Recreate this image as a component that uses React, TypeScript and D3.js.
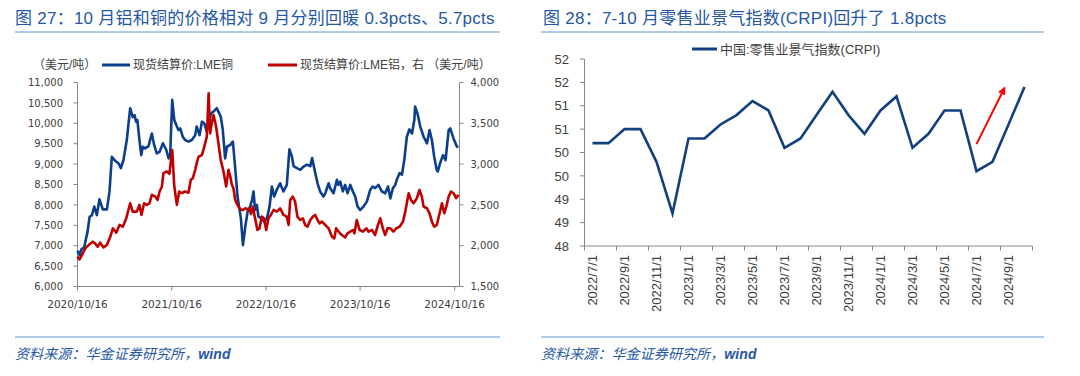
import React from "react";
import * as d3 from "d3";

// ---------- Figure 27: LME copper (left axis) & aluminium (right axis) ----------
const copperDates = [
  "2020-10-16","2020-10-24","2020-10-31","2020-11-11","2020-11-24","2020-12-02","2020-12-11","2020-12-20","2020-12-30",
  "2021-01-09","2021-01-22","2021-02-07","2021-02-17","2021-02-26","2021-03-11","2021-03-24","2021-04-02","2021-04-12","2021-04-25",
  "2021-05-08","2021-05-18","2021-05-25","2021-05-31","2021-06-05","2021-06-13","2021-06-20","2021-06-26","2021-07-05","2021-07-18",
  "2021-07-31","2021-08-09","2021-08-19","2021-08-30","2021-09-12","2021-09-25","2021-10-04","2021-10-10","2021-10-18","2021-10-26",
  "2021-11-05","2021-11-11","2021-11-18","2021-11-28","2021-12-07","2021-12-20",
  "2022-01-02","2022-01-15","2022-01-21","2022-02-01","2022-02-10","2022-02-19","2022-03-01","2022-03-08","2022-03-17","2022-03-27",
  "2022-04-09","2022-04-15","2022-04-24","2022-05-02","2022-05-11","2022-05-18","2022-05-31","2022-06-10","2022-06-19","2022-06-28",
  "2022-07-06","2022-07-11","2022-07-19","2022-07-28","2022-08-06","2022-08-16","2022-08-23","2022-08-29","2022-09-04","2022-09-11",
  "2022-09-17","2022-09-30","2022-10-09","2022-10-20","2022-10-30","2022-11-08","2022-11-17","2022-11-27","2022-12-10","2022-12-23",
  "2023-01-05","2023-01-15","2023-01-25","2023-01-31","2023-02-13","2023-02-26","2023-03-11","2023-03-24","2023-04-06","2023-04-13",
  "2023-04-25","2023-05-04","2023-05-14","2023-05-27","2023-06-03","2023-06-16","2023-06-22","2023-07-05","2023-07-18","2023-07-24",
  "2023-07-31","2023-08-10","2023-08-19","2023-08-28","2023-09-08","2023-09-18","2023-09-27","2023-10-06","2023-10-16","2023-10-29",
  "2023-11-11","2023-11-24","2023-12-04","2023-12-13","2023-12-26",
  "2024-01-08","2024-01-21","2024-02-01","2024-02-10","2024-02-20","2024-02-29","2024-03-06","2024-03-17","2024-03-26","2024-04-04",
  "2024-04-14","2024-04-24","2024-05-04","2024-05-13","2024-05-16","2024-05-25","2024-06-05","2024-06-18","2024-07-01","2024-07-11",
  "2024-07-20","2024-07-29","2024-08-08","2024-08-12","2024-08-21","2024-09-01","2024-09-11","2024-09-23","2024-09-29","2024-10-12",
  "2024-10-25","2024-10-31",
];
const copperPrices = [
  6876, 6770, 6910, 6960, 7345, 7710, 7750, 7960, 7750,
  8140, 7890, 7890, 8330, 9180, 9081, 9016, 8900, 9100, 9590,
  10370, 10150, 10200, 10040, 10080, 9590, 9220, 9425, 9385, 9440,
  9750, 9470, 9260, 9300, 9510, 9345, 9140, 9220, 10575, 10080,
  9920, 9835, 9875, 9670, 9590, 9550,
  9590, 9710, 9920, 9710, 10040, 10000, 9795, 9960, 10245, 10285,
  10370, 10285, 10165, 9835, 9140, 9425, 9470, 9550, 8900, 8205,
  7875, 7670, 7015, 7465, 7835, 7960, 8120, 8330, 7875, 8000,
  7710, 7670, 7590, 7670, 7960, 8450, 8205, 8370, 8530, 8330,
  8490, 9360, 9180, 8950, 8900, 8860, 8940, 8985, 8950, 9150,
  8780, 8530, 8330, 8205, 8285, 8530, 8410, 8285, 8615, 8490,
  8570, 8330, 8490, 8285, 8490, 8330, 8205, 7960, 7875, 7960,
  8080, 8370, 8450, 8410, 8490,
  8330, 8285, 8450, 8160, 8410, 8490, 8615, 8780, 8740, 9100,
  9670, 9850, 9750, 10080, 10410, 10245, 9920, 9670, 9510, 9835,
  9590, 9180, 8850, 8820, 9025, 9220, 9100, 9835, 9875, 9630,
  9425, 9425,
];
const aluminumDates = [
  "2020-10-16","2020-10-24","2020-11-02","2020-11-15","2020-11-28","2020-12-14","2020-12-23","2021-01-02","2021-01-12","2021-01-25",
  "2021-02-07","2021-02-20","2021-03-02","2021-03-15","2021-03-28","2021-04-10","2021-04-23","2021-05-08","2021-05-18","2021-06-03",
  "2021-06-13","2021-06-21","2021-07-01","2021-07-12","2021-07-22","2021-07-31","2021-08-13","2021-08-22","2021-08-30","2021-09-08",
  "2021-09-14","2021-09-27","2021-10-07","2021-10-18","2021-10-26","2021-11-05","2021-11-14","2021-11-24","2021-12-07","2021-12-20",
  "2021-12-29","2022-01-06","2022-01-15","2022-01-21","2022-01-28","2022-02-10","2022-02-19","2022-03-01","2022-03-08","2022-03-14",
  "2022-03-20","2022-03-27","2022-04-06","2022-04-15","2022-04-24","2022-05-05","2022-05-15","2022-05-24","2022-05-31","2022-06-06",
  "2022-06-12","2022-06-19","2022-06-28","2022-07-08","2022-07-19","2022-07-28","2022-08-03","2022-08-13","2022-08-19","2022-08-26",
  "2022-09-04","2022-09-13","2022-09-21","2022-09-30","2022-10-09","2022-10-17","2022-10-26","2022-11-04","2022-11-15","2022-11-27",
  "2022-12-10","2022-12-23","2023-01-05","2023-01-12","2023-01-18","2023-01-28","2023-02-06","2023-02-15","2023-02-26","2023-03-08",
  "2023-03-17","2023-03-26","2023-04-06","2023-04-16","2023-04-25","2023-05-04","2023-05-12","2023-05-21","2023-06-03","2023-06-16",
  "2023-06-29","2023-07-08","2023-07-15","2023-07-24","2023-08-06","2023-08-19","2023-08-28","2023-09-08","2023-09-18","2023-09-24",
  "2023-10-03","2023-10-14","2023-10-27","2023-11-09","2023-11-18","2023-12-01","2023-12-13","2023-12-22","2024-01-02","2024-01-12",
  "2024-01-21","2024-01-30","2024-02-10","2024-02-22","2024-03-04","2024-03-17","2024-03-30","2024-04-08","2024-04-21","2024-04-30",
  "2024-05-10","2024-05-23","2024-06-02","2024-06-11","2024-06-18","2024-07-01","2024-07-11","2024-07-20","2024-07-29","2024-08-08",
  "2024-08-19","2024-08-28","2024-09-06","2024-09-14","2024-09-23","2024-10-02","2024-10-12","2024-10-22","2024-10-31",
];
const aluminumPrices = [
  1865, 1832, 1885, 1967, 2008, 2049, 2029, 1988, 2037, 1979,
  2008, 2110, 2212, 2160, 2254, 2234, 2336, 2520, 2418, 2418,
  2500, 2377, 2520, 2500, 2520, 2623, 2603, 2562, 2664, 2725,
  2889, 2910, 2881, 3172, 2725, 2500, 2664, 2644, 2664, 2650,
  2808, 2828, 2930, 3012, 3090, 3110, 3212, 3335, 3869, 3377,
  3500, 3602, 3460, 3255, 3050, 2906, 2725, 2930, 2849, 2746,
  2705, 2562, 2500, 2447, 2438, 2458, 2447, 2458, 2389, 2479,
  2336, 2193, 2212, 2356, 2336, 2193, 2336, 2377, 2438, 2418,
  2458, 2377, 2356, 2254, 2561, 2602, 2541, 2356, 2315, 2336,
  2254, 2233, 2315, 2356, 2377, 2315, 2274, 2295, 2254, 2213,
  2110, 2090, 2213, 2172, 2131, 2102, 2151, 2172, 2192, 2151,
  2315, 2192, 2172, 2213, 2172, 2192, 2131, 2233, 2336, 2213,
  2131, 2213, 2213, 2172, 2213, 2233, 2295, 2418, 2643, 2561,
  2520, 2582, 2684, 2602, 2479, 2459, 2397, 2295, 2233, 2254,
  2397, 2520, 2397, 2479, 2602, 2664, 2643, 2582, 2623,
];
const copperTicks = [6000, 6500, 7000, 7500, 8000, 8500, 9000, 9500, 10000, 10500, 11000];
const aluminumTicks = [1500, 2000, 2500, 3000, 3500, 4000];
const dateTicks = ["2020-10-16", "2021-10-16", "2022-10-16", "2023-10-16", "2024-10-16"];
const dateDomain = ["2020-10-16", "2024-11-04"];

// ---------- Figure 28: China retail business prosperity index (CRPI) ----------
const crpiMonths = [
  "2022/7/1","2022/8/1","2022/9/1","2022/10/1","2022/11/1","2022/12/1",
  "2023/1/1","2023/2/1","2023/3/1","2023/4/1","2023/5/1","2023/6/1","2023/7/1","2023/8/1","2023/9/1","2023/10/1","2023/11/1","2023/12/1",
  "2024/1/1","2024/2/1","2024/3/1","2024/4/1","2024/5/1","2024/6/1","2024/7/1","2024/8/1","2024/9/1","2024/10/1",
];
const crpiValues = [
  50.2, 50.2, 50.5, 50.5, 49.8, 48.7,
  50.3, 50.3, 50.6, 50.8, 51.1, 50.9, 50.1, 50.3, 50.8, 51.3, 50.8, 50.4,
  50.9, 51.2, 50.1, 50.4, 50.9, 50.9, 49.6, 49.8, 50.6, 51.4,
];
const crpiTicks = [48, 48.5, 49, 49.5, 50, 50.5, 51, 51.5, 52];
const crpiTickLabels = ["48", "49", "49", "50", "50", "51", "51", "52", "52"];
// red annotation arrow (category index, index value)
const arrowFrom = [24, 50.18];
const arrowTo = [25.75, 51.38];

const CJK = "'Liberation Sans','Noto Sans CJK SC',sans-serif";
const TITLE = "#2557a5";
const AXIS = "#868686";
const LABEL = "#404040";

export default function App() {
  const parse = d3.timeParse("%Y-%m-%d");
  const x = d3.scaleTime().domain(dateDomain.map((d) => parse(d) as Date)).range([77.5, 459.5]);
  const yCu = d3.scaleLinear().domain([6000, 11000]).range([286.5, 82.5]);
  const yAl = d3.scaleLinear().domain([1500, 4000]).range([286.5, 82.5]);

  const cuData = copperDates.map((d, i) => ({ d: parse(d) as Date, v: copperPrices[i] }));
  const alData = aluminumDates.map((d, i) => ({ d: parse(d) as Date, v: aluminumPrices[i] }));
  const cuLine = d3.line<{ d: Date; v: number }>().x((p) => x(p.d)).y((p) => yCu(p.v));
  const alLine = d3.line<{ d: Date; v: number }>().x((p) => x(p.d)).y((p) => yAl(p.v));

  const xb = d3.scaleBand<string>().domain(crpiMonths).range([584.5, 1032.5]).padding(0);
  const yR = d3.scaleLinear().domain([48, 52]).range([246, 59]);
  const xIdx = (i: number) => (xb.range()[0] as number) + xb.step() * (i + 0.5);
  const crpiLine = d3.line<number>().x((_, i) => xIdx(i)).y((v) => yR(v));
  const bandEdges = d3.range(0, crpiMonths.length + 1, 2).map((i) => (xb.range()[0] as number) + xb.step() * i);

  const fmt = d3.format(",");

  return (
    <svg width={1080} height={376} style={{ position: "absolute", left: 0, top: 0, background: "#fff" }}>
      <defs>
        <marker id="arr" viewBox="0 0 10 10" refX="8" refY="5" markerWidth="4" markerHeight="4" orient="auto">
          <path d="M0,0 L10,5 L0,10 z" fill="#ff0000" />
        </marker>
      </defs>

      {/* ===== Left panel ===== */}
      <text x={15} y={24} fontFamily={CJK} fontSize={17} fill={TITLE} letterSpacing={0.25}>
        图 27：10 月铝和铜的价格相对 9 月分别回暖 0.3pcts、5.7pcts
      </text>
      <line x1={15} x2={500} y1={32} y2={32} stroke="#5b9bd5" strokeWidth={1} />

      {/* legend */}
      <text x={33} y={69} fontFamily={CJK} fontSize={12} fill={LABEL}>（美元/吨）</text>
      <line x1={102} x2={130} y1={65} y2={65} stroke="#0b3f8c" strokeWidth={3} />
      <text x={133} y={69} fontFamily={CJK} fontSize={12} fill={LABEL}>现货结算价:LME铜</text>
      <line x1={268} x2={297} y1={65} y2={65} stroke="#c00000" strokeWidth={3} />
      <text x={300} y={69} fontFamily={CJK} fontSize={12} fill={LABEL}>现货结算价:LME铝，右 （美元/吨）</text>

      {/* axes */}
      <line x1={77.5} x2={77.5} y1={yCu(11000)} y2={yCu(6000)} stroke={AXIS} />
      <line x1={459.5} x2={459.5} y1={yAl(4000)} y2={yAl(1500)} stroke={AXIS} />
      <line x1={77.5} x2={459.5} y1={286.5} y2={286.5} stroke={AXIS} />
      {copperTicks.map((t) => (
        <g key={"cu" + t}>
          <line x1={73.5} x2={77.5} y1={yCu(t)} y2={yCu(t)} stroke={AXIS} />
          <text x={63} y={yCu(t)} dy="0.36em" textAnchor="end" fontFamily="'DejaVu Sans',sans-serif" fontSize={10} fill={LABEL}>
            {fmt(t)}
          </text>
        </g>
      ))}
      {aluminumTicks.map((t) => (
        <g key={"al" + t}>
          <line x1={459.5} x2={463.5} y1={yAl(t)} y2={yAl(t)} stroke={AXIS} />
          <text x={470.5} y={yAl(t)} dy="0.36em" fontFamily="'DejaVu Sans',sans-serif" fontSize={10} fill={LABEL}>
            {fmt(t)}
          </text>
        </g>
      ))}
      {dateTicks.map((d) => {
        const px = x(parse(d) as Date);
        return (
          <g key={d}>
            <line x1={px} x2={px} y1={286.5} y2={290.5} stroke={AXIS} />
            <text x={px} y={307.5} textAnchor="middle" fontFamily="'DejaVu Sans',sans-serif" fontSize={10.5} fill={LABEL}>
              {d3.timeFormat("%Y/%m/%d")(parse(d) as Date)}
            </text>
          </g>
        );
      })}

      <path d={cuLine(cuData) ?? ""} fill="none" stroke="#0b3f8c" strokeWidth={2.6} strokeLinejoin="round" />
      <path d={alLine(alData) ?? ""} fill="none" stroke="#c00000" strokeWidth={2.6} strokeLinejoin="round" />

      <line x1={15} x2={500} y1={337} y2={337} stroke="#5b9bd5" strokeWidth={1} />
      <text x={15} y={359} fontFamily={CJK} fontSize={14} fill={TITLE} fontStyle="italic" letterSpacing={0.1}>
        资料来源：华金证券研究所，<tspan fontWeight="bold">wind</tspan>
      </text>

      {/* ===== Right panel ===== */}
      <text x={543} y={24} fontFamily={CJK} fontSize={17} fill={TITLE} letterSpacing={0.25}>
        图 28：7-10 月零售业景气指数(CRPI)回升了 1.8pcts
      </text>
      <line x1={541} x2={1044} y1={32} y2={32} stroke="#5b9bd5" strokeWidth={1} />

      <line x1={692} x2={717} y1={49} y2={49} stroke="#12407f" strokeWidth={3} />
      <text x={720} y={53.5} fontFamily={CJK} fontSize={13} fill={LABEL}>中国:零售业景气指数(CRPI)</text>

      <line x1={584.5} x2={584.5} y1={yR(52)} y2={yR(48)} stroke={AXIS} />
      <line x1={584.5} x2={1032.5} y1={yR(48)} y2={yR(48)} stroke={AXIS} />
      {crpiTicks.map((t, i) => (
        <g key={"r" + t}>
          <line x1={580} x2={584.5} y1={yR(t)} y2={yR(t)} stroke={AXIS} />
          <text x={569} y={yR(t)} dy="0.36em" textAnchor="end" fontFamily="'Liberation Sans',sans-serif" fontSize={13} fill={LABEL}>
            {crpiTickLabels[i]}
          </text>
        </g>
      ))}
      {bandEdges.map((e, i) => (
        <line key={"be" + i} x1={e} x2={e} y1={246} y2={250.5} stroke={AXIS} />
      ))}
      {crpiMonths.map((m, i) =>
        i % 2 === 0 ? (
          <text
            key={m}
            transform={`translate(${xIdx(i)},255) rotate(-90)`}
            dy="0.36em"
            textAnchor="end"
            fontFamily="'Liberation Sans',sans-serif"
            fontSize={13}
            fill={LABEL}
          >
            {m}
          </text>
        ) : null
      )}

      <path d={crpiLine(crpiValues) ?? ""} fill="none" stroke="#12407f" strokeWidth={2.6} strokeLinejoin="miter" />
      <line
        x1={xIdx(arrowFrom[0])}
        y1={yR(arrowFrom[1])}
        x2={xIdx(arrowTo[0])}
        y2={yR(arrowTo[1])}
        stroke="#ff0000"
        strokeWidth={2}
        markerEnd="url(#arr)"
      />

      <line x1={541} x2={1044} y1={337} y2={337} stroke="#5b9bd5" strokeWidth={1} />
      <text x={541} y={359} fontFamily={CJK} fontSize={14} fill={TITLE} fontStyle="italic" letterSpacing={0.1}>
        资料来源：华金证券研究所，<tspan fontWeight="bold">wind</tspan>
      </text>
    </svg>
  );
}
